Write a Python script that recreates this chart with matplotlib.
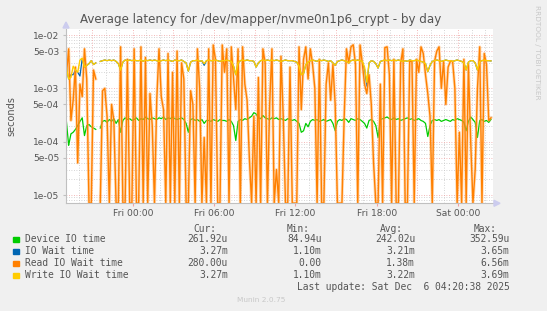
import numpy as np
import matplotlib
matplotlib.use("Agg")
import matplotlib.pyplot as plt
from matplotlib.ticker import FixedLocator, NullFormatter

# ---------------- data (values in milliseconds, 10-minute steps) ----------------
start_hour = 19.1          # Thu 19:06, hours counted from Thu 00:00
step_hours = 1.0 / 6.0

device_io = [
    0.24, 0.085, 0.14, 0.15, 0.17, 0.20, 0.24, 0.28, 0.13, 0.20,
    0.21, 0.19, 0.18, 0.17, np.nan, 0.18, 0.24, 0.25, 0.23, 0.26,
    0.24, 0.27, 0.22, 0.26, 0.15, 0.25, 0.28, 0.26, 0.27, 0.25,
    0.26, 0.28, 0.25, 0.27, 0.26, 0.29, 0.27, 0.26, 0.28, 0.27,
    0.26, 0.28, 0.27, 0.29, 0.26, 0.28, 0.27, 0.29, 0.27, 0.26,
    0.27, 0.28, 0.26, 0.22, 0.15, 0.26, 0.27, 0.25, 0.26, 0.24,
    0.26, 0.22, 0.25, 0.25, 0.24, 0.26, 0.25, 0.24, 0.26, 0.25,
    0.25, 0.24, 0.26, 0.24, 0.20, 0.105, 0.24, 0.26, 0.25, 0.27,
    0.26, 0.28, 0.30, 0.35, 0.33, 0.28, 0.27, 0.31, 0.28, 0.27,
    0.26, 0.28, 0.27, 0.28, 0.26, 0.27, 0.26, 0.25, 0.27, 0.26,
    0.25, 0.26, 0.24, 0.22, 0.15, 0.16, 0.22, 0.19, 0.24, 0.26,
    0.25, 0.26, 0.24, 0.25, 0.26, 0.24, 0.25, 0.26, 0.22, 0.16,
    0.24, 0.26, 0.25, 0.27, 0.26, 0.23, 0.27, 0.26, 0.25, 0.27,
    0.26, 0.24, 0.22, 0.18, 0.25, 0.26, 0.24, 0.20, 0.12, 0.26,
    0.27, 0.28, 0.29, 0.27, 0.26, 0.28, 0.26, 0.27, 0.25, 0.26,
    0.27, 0.28, 0.26, 0.27, 0.25, 0.26, 0.27, 0.25, 0.24, 0.22,
    0.125, 0.20, 0.25, 0.26, 0.25, 0.26, 0.24, 0.25, 0.26, 0.25,
    0.24, 0.26, 0.25, 0.27, 0.26, 0.25, 0.23, 0.16, 0.24, 0.29,
    0.26, 0.23, 0.12, 0.25, 0.26, 0.24, 0.25, 0.23, 0.262,
]

io_wait = [
    2.4, 1.5, 1.8, 1.8, 2.2, 2.0, 1.7, 3.6, 2.5, 2.7,
    2.9, 3.3, 2.8, 3.0, np.nan, 3.2, 3.3, 3.4, 3.3, 3.4,
    3.3, 3.4, 3.2, 2.9, 2.2, 3.1, 3.4, 3.3, 3.4, 3.3,
    3.4, 3.3, 3.3, 3.4, 3.2, 3.4, 3.3, 3.4, 3.3, 3.4,
    3.3, 3.2, 3.3, 3.4, 3.3, 3.4, 3.3, 3.2, 3.4, 3.3,
    3.3, 3.4, 3.2, 3.0, 2.1, 3.1, 3.3, 3.3, 3.4, 3.2,
    3.3, 2.7, 3.3, 3.4, 3.3, 3.3, 3.4, 3.3, 3.2, 3.3,
    3.3, 3.4, 3.3, 3.2, 2.6, 1.8, 3.0, 3.3, 3.4, 3.3,
    3.4, 3.3, 3.3, 3.2, 2.5, 3.0, 3.3, 3.4, 3.3, 3.4,
    3.3, 3.4, 3.3, 3.4, 3.3, 3.2, 3.3, 3.4, 3.3, 3.3,
    3.3, 3.2, 3.1, 2.6, 1.8, 1.9, 2.8, 3.1, 3.3, 3.4,
    3.3, 3.2, 3.4, 3.3, 3.4, 3.3, 3.2, 3.3, 3.0, 2.7,
    3.2, 3.3, 3.4, 3.3, 3.2, 3.0, 3.3, 3.4, 3.3, 3.4,
    3.3, 3.2, 2.3, 1.10, 3.0, 3.3, 3.2, 2.9, 2.4, 3.2,
    3.3, 3.4, 3.3, 3.4, 3.3, 3.4, 3.3, 3.4, 3.3, 3.2,
    3.3, 3.2, 3.4, 3.3, 3.3, 3.4, 3.3, 3.2, 3.1, 2.9,
    2.05, 2.7, 3.2, 3.3, 3.4, 3.3, 3.2, 3.3, 3.4, 3.3,
    3.3, 3.2, 3.3, 3.4, 3.3, 3.2, 3.0, 2.2, 3.1, 3.3,
    3.3, 3.0, 2.2, 3.2, 3.3, 3.4, 3.3, 3.3, 3.27,
]

read_wait = [
    1.8, 5.5, 0.25, 0.6, 2.5, 0.04, 1.2, 0.7, 5.5, 1.5,
    0, 0, 2.2, 1.5, np.nan, 0, 0.9, 1.0, 0.3, 0,
    0.5, 0.25, 0, 0, 6.0, 0, 0, 3.5, 0, 0,
    5.5, 0, 0, 6.0, 0, 3.8, 0, 0.8, 0.2, 0,
    0.6, 5.5, 0.7, 0.4, 0, 4.5, 0, 2.0, 0, 5.0,
    0, 3.0, 1.5, 0, 0, 0.9, 0.5, 0, 5.5, 1.0,
    0, 0.12, 0, 5.5, 0, 6.5, 3.5, 0, 0, 6.5,
    2.0, 5.5, 0, 6.0, 1.5, 0.4, 5.5, 0, 6.0, 1.2,
    0.6, 0.05, 0, 0.3, 0, 1.6, 0, 5.5, 3.0, 0,
    0.5, 5.5, 0, 0.03, 0, 4.0, 0.3, 0, 0, 2.5,
    0, 0, 0, 6.0, 0.4, 3.5, 6.0, 1.5, 5.5, 2.8,
    1.0, 0, 3.5, 0, 0, 1.2, 3.0, 0.6, 2.8, 0.5,
    0, 0, 0, 0.3, 5.5, 3.0, 6.0, 6.56, 2.8, 0,
    6.5, 3.0, 1.2, 0.8, 1.8, 0.5, 0.04, 0, 0, 1.2,
    0, 5.8, 6.0, 1.8, 0, 3.5, 0, 0, 3.0, 5.5,
    0, 0, 3.2, 3.2, 0, 3.5, 2.0, 6.0, 4.5, 1.8,
    0.8, 0.3, 0, 3.2, 5.0, 6.0, 1.0, 3.2, 0.5, 2.5,
    3.2, 3.2, 1.0, 0, 0.15, 0, 3.5, 0, 2.8, 0.1,
    0, 0.03, 1.0, 6.0, 0, 4.5, 2.8, 0.25, 0.28,
]

write_wait = [
    2.4, 1.5, 1.6, 2.6, 2.2, 2.0, 3.4, 3.69, 2.5, 2.7,
    2.9, 3.3, 2.8, 3.0, np.nan, 3.2, 3.3, 3.4, 3.3, 3.4,
    3.3, 3.4, 3.2, 2.9, 2.2, 3.1, 3.4, 3.3, 3.4, 3.3,
    3.4, 3.3, 3.3, 3.4, 3.2, 3.4, 3.3, 3.4, 3.3, 3.4,
    3.3, 3.2, 3.3, 3.4, 3.3, 3.4, 3.3, 3.2, 3.4, 3.3,
    3.3, 3.4, 3.2, 3.0, 2.1, 3.1, 3.3, 3.3, 3.4, 3.2,
    3.3, 2.9, 3.3, 3.4, 3.3, 3.3, 3.4, 3.3, 3.2, 3.3,
    3.3, 3.4, 3.3, 3.2, 2.6, 1.8, 3.0, 3.3, 3.4, 3.3,
    3.4, 3.3, 3.3, 3.2, 2.5, 3.0, 3.3, 3.4, 3.3, 3.4,
    3.3, 3.4, 3.3, 3.4, 3.3, 3.2, 3.3, 3.4, 3.3, 3.3,
    3.3, 3.2, 3.1, 2.6, 1.8, 1.9, 2.8, 3.1, 3.3, 3.4,
    3.3, 3.2, 3.4, 3.3, 3.4, 3.3, 3.2, 3.3, 3.0, 2.7,
    3.2, 3.3, 3.4, 3.3, 3.2, 3.0, 3.3, 3.4, 3.3, 3.4,
    3.3, 3.2, 2.5, 1.3, 3.0, 3.3, 3.2, 2.9, 2.4, 3.2,
    3.3, 3.4, 3.3, 3.4, 3.3, 3.4, 3.3, 3.4, 3.3, 3.2,
    3.3, 3.2, 3.4, 3.3, 3.3, 3.4, 3.3, 3.2, 3.1, 2.9,
    2.05, 2.7, 3.2, 3.3, 3.4, 3.3, 3.2, 3.3, 3.4, 3.3,
    3.3, 3.2, 3.3, 3.4, 3.3, 3.2, 3.0, 2.2, 3.1, 3.3,
    3.3, 3.0, 2.2, 3.2, 3.3, 3.4, 3.3, 3.3, 3.27,
]

series_names = ["Device IO time", "IO Wait time", "Read IO Wait time", "Write IO Wait time"]
series_colors = ["#00CC00", "#0066B3", "#FF8000", "#FFCC00"]
cur_vals = ["261.92u", "3.27m", "280.00u", "3.27m"]
min_vals = ["84.94u", "1.10m", "0.00", "1.10m"]
avg_vals = ["242.02u", "3.21m", "1.38m", "3.22m"]
max_vals = ["352.59u", "3.65m", "6.56m", "3.69m"]

x_label_hours = [24, 30, 36, 42, 48]
x_labels = ["Fri 00:00", "Fri 06:00", "Fri 12:00", "Fri 18:00", "Sat 00:00"]
y_label_values = [1e-5, 5e-5, 1e-4, 5e-4, 1e-3, 5e-3, 1e-2]
y_labels = ["1e-05", "5e-05", "1e-04", "5e-04", "1e-03", "5e-03", "1e-02"]

title = "Average latency for /dev/mapper/nvme0n1p6_crypt - by day"
last_update = "Last update: Sat Dec  6 04:20:38 2025"

# ---------------- figure ----------------
W, H = 547, 311
fig = plt.figure(figsize=(W / 100, H / 100), dpi=100, facecolor="#F0F0F0")

left_px, right_px, top_px, bottom_px = 66, 493, 29, 203.3
ax = fig.add_axes([left_px / W, 1 - bottom_px / H, (right_px - left_px) / W, (bottom_px - top_px) / H])
ax.set_facecolor("white")

ymin, ymax = 6.99e-6, 1.296e-2
xmin, xmax = 19.07, 50.58

n = len(device_io)
hours = start_hour + np.arange(n) * step_hours

# grid
minor_y = [m * 10.0 ** e for e in range(-6, -1) for m in (2, 3, 4, 6, 7, 8, 9)]
minor_y = [v for v in minor_y if ymin < v < ymax]
for v in minor_y:
    ax.axhline(v, color="#C8C8C8", lw=0.6, ls=(0, (1, 2)), zorder=0)
for v in y_label_values:
    ax.axhline(v, color="#F0A0A0", lw=0.6, ls=(0, (1, 2)), zorder=0.5)
for h in np.arange(20, 51, 1):
    if h % 3:
        ax.axvline(h, color="#C8C8C8", lw=0.6, ls=(0, (1, 2)), zorder=0)
for h in np.arange(21, 51, 3):
    ax.axvline(h, color="#F0A0A0", lw=0.6, ls=(0, (1, 2)), zorder=0.5)

def ms(a):
    return np.array(a, dtype=float) * 1e-3

ax.plot(hours, ms(device_io), color=series_colors[0], lw=0.9, zorder=2)
ax.plot(hours, ms(io_wait), color=series_colors[1], lw=0.9, zorder=3)
read_s = np.clip(ms(read_wait), ymin * 1.01, None)
ax.plot(hours, read_s, color="#FFB060", lw=2.2, alpha=0.45, zorder=3.5)
ax.plot(hours, read_s, color=series_colors[2], lw=1.0, zorder=4)
ax.plot(hours, ms(write_wait), color=series_colors[3], lw=1.0, zorder=5)

ax.set_yscale("log")
ax.set_ylim(ymin, ymax)
ax.set_xlim(xmin, xmax)

ax.yaxis.set_major_locator(FixedLocator(y_label_values))
ax.set_yticklabels(y_labels)
ax.yaxis.set_minor_locator(FixedLocator([]))
ax.yaxis.set_minor_formatter(NullFormatter())
ax.set_xticks(x_label_hours)
ax.set_xticklabels(x_labels)

for s in ["top", "right"]:
    ax.spines[s].set_visible(False)
for s in ["left", "bottom"]:
    ax.spines[s].set_color("#C0C0C0")
    ax.spines[s].set_linewidth(0.8)
ax.tick_params(axis="both", length=2, width=0.8, color="#F0A0A0", labelsize=6.6,
               labelcolor="#555555", pad=2)
ax.tick_params(axis="y", color="#C0C0C0", length=2, pad=3)
ax.spines["left"].set_zorder(6)
ax.spines["bottom"].set_zorder(6)

# axis arrows
fig.patches.append(plt.Polygon([[left_px / W - 3 / W, 1 - (top_px - 1) / H],
                                 [left_px / W + 3 / W, 1 - (top_px - 1) / H],
                                 [left_px / W, 1 - (top_px - 7) / H]],
                                closed=True, transform=fig.transFigure, color="#CCCCEE"))
fig.patches.append(plt.Polygon([[(right_px + 1) / W, 1 - (bottom_px - 3) / H],
                                 [(right_px + 1) / W, 1 - (bottom_px + 3) / H],
                                 [(right_px + 7) / W, 1 - bottom_px / H]],
                                closed=True, transform=fig.transFigure, color="#CCCCEE"))

# texts
fig.text(261 / W, 1 - 19 / H, title, ha="center", va="center", fontsize=8.6, color="#555555")
fig.text(11 / W, 1 - 116 / H, "seconds", rotation=90, ha="center", va="center", fontsize=7, color="#555555")
fig.text(537 / W, 1 - 52 / H, "RRDTOOL / TOBI OETIKER", rotation=270, ha="center", va="center",
         fontsize=5.3, color="#C8C8C8")

mono = "DejaVu Sans Mono"
fs = 6.9
tc = "#555555"
header_y = 228.5
fig.text(216 / W, 1 - header_y / H, "Cur:", ha="right", va="center", family=mono, fontsize=fs, color=tc)
fig.text(309.5 / W, 1 - header_y / H, "Min:", ha="right", va="center", family=mono, fontsize=fs, color=tc)
fig.text(403 / W, 1 - header_y / H, "Avg:", ha="right", va="center", family=mono, fontsize=fs, color=tc)
fig.text(497 / W, 1 - header_y / H, "Max:", ha="right", va="center", family=mono, fontsize=fs, color=tc)

row_y = [239.5, 251.5, 263.5, 275.5]
for k in range(4):
    yy = 1 - row_y[k] / H
    fig.patches.append(plt.Rectangle((13.3 / W, 1 - (row_y[k] + 2.7) / H), 5.4 / W, 5.4 / H,
                                     transform=fig.transFigure, color=series_colors[k]))
    fig.text(25 / W, yy, series_names[k], ha="left", va="center", family=mono, fontsize=fs, color=tc)
    fig.text(228 / W, yy, cur_vals[k], ha="right", va="center", family=mono, fontsize=fs, color=tc)
    fig.text(321.5 / W, yy, min_vals[k], ha="right", va="center", family=mono, fontsize=fs, color=tc)
    fig.text(415 / W, yy, avg_vals[k], ha="right", va="center", family=mono, fontsize=fs, color=tc)
    fig.text(509.5 / W, yy, max_vals[k], ha="right", va="center", family=mono, fontsize=fs, color=tc)

fig.text(509.5 / W, 1 - 287.5 / H, last_update, ha="right", va="center", family=mono, fontsize=fs, color=tc)
fig.text(261 / W, 1 - 300.5 / H, "Munin 2.0.75", ha="center", va="center", fontsize=5.3, color="#C8C8C8")

fig.savefig("out.png", dpi=100, facecolor=fig.get_facecolor())
